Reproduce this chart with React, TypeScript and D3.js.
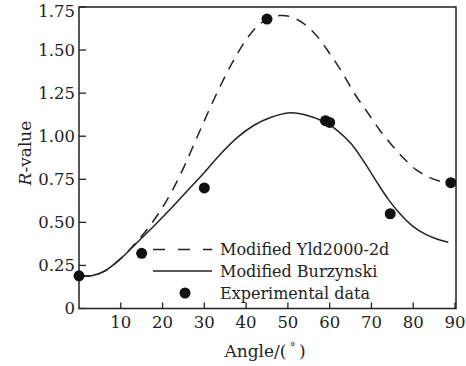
import * as d3 from "d3";

// angles in degrees, R-values
const yldAngles = [0, 3, 6, 10, 13, 16, 19, 22, 25, 28, 31, 34, 37, 40, 43, 46, 48, 50, 52, 54, 57, 60, 63, 66, 69, 72, 75, 78, 81, 84, 87, 88.8];
const yldValues = [0.19, 0.19, 0.215, 0.29, 0.365, 0.45, 0.55, 0.67, 0.815, 0.98, 1.145, 1.3, 1.44, 1.56, 1.645, 1.69, 1.7, 1.698, 1.68, 1.65, 1.58, 1.48, 1.37, 1.245, 1.14, 1.035, 0.945, 0.865, 0.8, 0.76, 0.735, 0.73];

const burAngles = [0, 3, 6, 10, 14, 18, 22, 26, 30, 34, 38, 42, 46, 50, 53, 56, 59, 62, 65, 68, 71, 74, 77, 80, 83, 86, 88.4];
const burValues = [0.19, 0.19, 0.215, 0.29, 0.385, 0.48, 0.58, 0.685, 0.79, 0.9, 0.995, 1.065, 1.11, 1.135, 1.13, 1.11, 1.08, 1.03, 0.96, 0.86, 0.745, 0.635, 0.545, 0.475, 0.43, 0.4, 0.385];

const expAngles = [0, 15, 30, 45, 59, 60, 74.5, 89];
const expValues = [0.19, 0.32, 0.7, 1.68, 1.09, 1.08, 0.55, 0.73];

const xTicks = [10, 20, 30, 40, 50, 60, 70, 80, 90];
const yTicks = [0, 0.25, 0.5, 0.75, 1.0, 1.25, 1.5, 1.75];
const yTickLabels = ["0", "0.25", "0.50", "0.75", "1.00", "1.25", "1.50", "1.75"];

const legendLabels = ["Modified Yld2000-2d", "Modified Burzynski", "Experimental data"];

export default function App() {
  const width = 466;
  const height = 366;
  const left = 79, right = 456, top = 7, bottom = 308.5;

  const x = d3.scaleLinear().domain([0, 90]).range([left, 455]);
  const y = d3.scaleLinear().domain([0, 1.75]).range([bottom, top]);

  const line = d3
    .line<[number, number]>()
    .x((d) => x(d[0]))
    .y((d) => y(d[1]))
    .curve(d3.curveCatmullRom.alpha(0.5));

  const yldPath = line(yldAngles.map((a, i) => [a, yldValues[i]]) as [number, number][]) || "";
  const burPath = line(burAngles.map((a, i) => [a, burValues[i]]) as [number, number][]) || "";

  const font = "'DejaVu Serif', serif";

  return (
    <svg width={width} height={height} style={{ position: "absolute", left: 0, top: 0, background: "white" }}>
      {/* frame */}
      <rect x={left} y={top} width={right - left} height={bottom - top} fill="none" stroke="#222" strokeWidth={1.5} />

      {/* y ticks */}
      {yTicks.map((t, i) => (
        <g key={"y" + t}>
          <line x1={left} x2={left + 7} y1={y(t)} y2={y(t)} stroke="#222" strokeWidth={1.3} />
          <text
            x={left - 4}
            y={i === yTicks.length - 1 ? y(t) + 4 : y(t)}
            dy="0.36em"
            textAnchor="end"
            fontFamily={font}
            fontSize={16.5}
            fill="#222"
          >
            {yTickLabels[i]}
          </text>
        </g>
      ))}

      {/* x ticks */}
      {xTicks.map((t) => (
        <g key={"x" + t}>
          <line x1={x(t)} x2={x(t)} y1={bottom} y2={bottom - 6} stroke="#222" strokeWidth={1.3} />
          <text x={x(t)} y={bottom + 19} textAnchor="middle" fontFamily={font} fontSize={16.5} fill="#222">
            {t}
          </text>
        </g>
      ))}

      {/* axis titles */}
      <text x={265} y={357} textAnchor="middle" fontFamily={font} fontSize={17} fill="#222">
        Angle/(<tspan dy="-6" fontSize={11}> ° </tspan><tspan dy="6">)</tspan>
      </text>
      <text transform={`translate(31,153) rotate(-90)`} textAnchor="middle" fontFamily={font} fontSize={17} fill="#222">
        <tspan fontStyle="italic">R</tspan>-value
      </text>

      {/* curves */}
      <path d={yldPath} fill="none" stroke="#222" strokeWidth={1.5} strokeDasharray="11 8" />
      <path d={burPath} fill="none" stroke="#222" strokeWidth={1.5} />

      {/* experimental data */}
      {expAngles.map((a, i) => (
        <circle key={"e" + i} cx={x(a)} cy={y(expValues[i])} r={5.5} fill="#111" />
      ))}

      {/* legend */}
      <line x1={153} x2={212} y1={249.5} y2={249.5} stroke="#222" strokeWidth={1.5} strokeDasharray="12 13" />
      <line x1={153} x2={212} y1={271} y2={271} stroke="#222" strokeWidth={1.5} />
      <circle cx={185} cy={293} r={5.5} fill="#111" />
      {legendLabels.map((l, i) => (
        <text key={l} x={220} y={249.5 + i * 21.8} dy="0.35em" fontFamily={font} fontSize={16} fill="#222">
          {l}
        </text>
      ))}
    </svg>
  );
}
